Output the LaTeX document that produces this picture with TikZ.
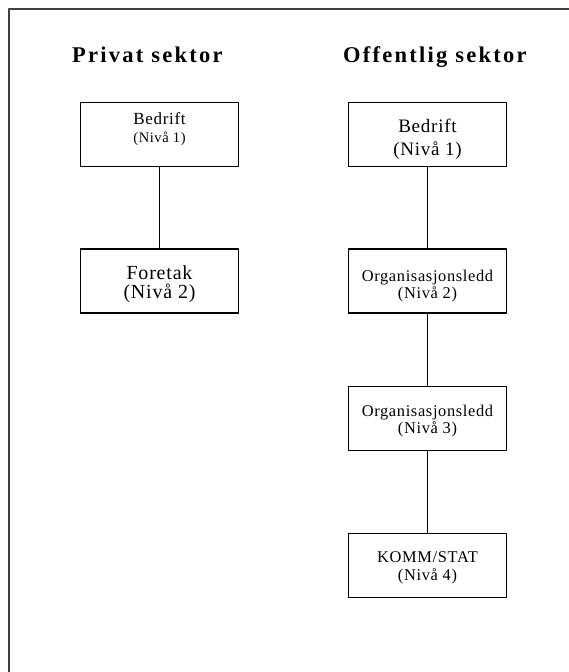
\documentclass[tikz,border=0pt]{standalone}
\usepackage{fontspec}
\setmainfont{Liberation Serif}
\usepackage{tikz}
\newcommand\tekst[2]{\fontsize{#1}{#2}\selectfont\addfontfeature{LetterSpace=4}}

\begin{document}
\begin{tikzpicture}[line cap=round,line join=round,x=1pt,y=-1pt,
    boks/.style={draw,line width=1.6pt,minimum width=158pt,minimum height=64pt,align=center,inner sep=0pt,text depth=0pt},
    tittel/.style={anchor=base west,inner sep=0pt,font=\fontsize{22.5}{26}\selectfont\bfseries\addfontfeature{LetterSpace=10}}]
    \useasboundingbox (0,0) rectangle (569,672);
    \draw [line width=1.5pt,black!75] (9,672) |- (569,9);
    \node[tittel] (privat) at (72,62) {Privat sektor};
    \node[tittel] (offentlig) at (343,62) {Offentlig sektor};
    % privat sektor
    \node[boks,text height=15pt,font=\tekst{17}{18}] (pniva1) at (159.5,134.5) {Bedrift\\{\tekst{14.5}{16}(Nivå 1)}};
    \node[boks,text height=34pt,font=\tekst{20}{18.5}] (pniva2) at (159.5,281) {Foretak\\(Nivå 2)};
    \draw [line width=1.6pt] (pniva1) -- (pniva2);
    % offentlig sektor
    \node[boks,text height=42pt,font=\tekst{19}{23.5}] (oniva1) at (427.5,134.5) {Bedrift\\(Nivå 1)};
    \node[boks,text height=34pt,font=\tekst{16.4}{17}] (oniva2) at (427.5,281) {Organisasjonsledd\\(Nivå 2)};
    \node[boks,text height=29pt,font=\tekst{16.4}{17}] (oniva3) at (427.5,418.5) {Organisasjonsledd\\(Nivå 3)};
    \node[boks,text height=29pt,font=\tekst{16.4}{18}] (oniva4) at (427.5,565.5) {KOMM/STAT\\(Nivå 4)};
    \draw [line width=1.6pt] (oniva1) -- (oniva2) -- (oniva3) -- (oniva4);
\end{tikzpicture}
\end{document}
